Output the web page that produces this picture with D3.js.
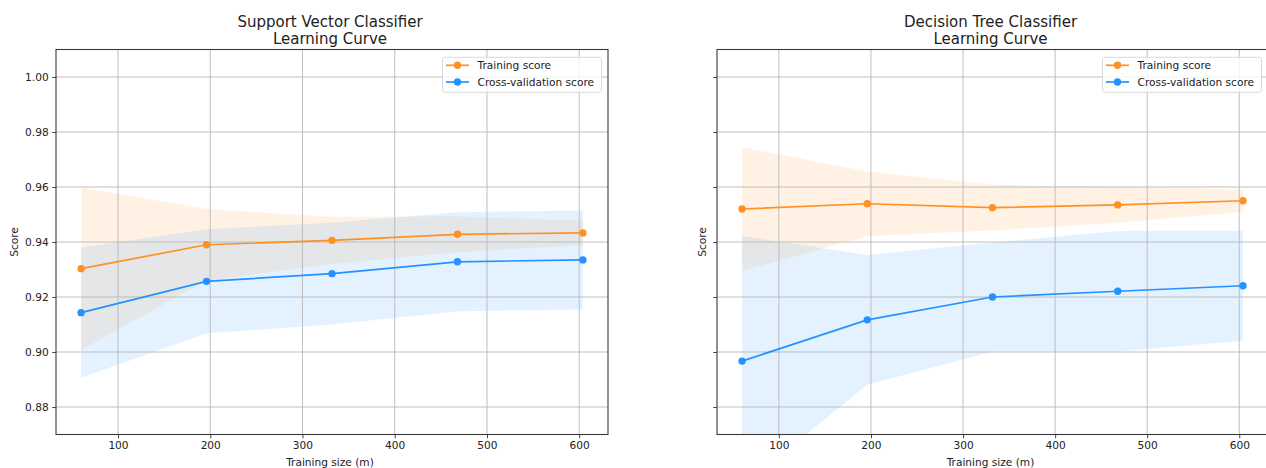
<!DOCTYPE html>
<html>
<head>
<meta charset="utf-8">
<script src="https://cdn.jsdelivr.net/npm/d3@7"></script>
<style>
  html, body { margin: 0; padding: 0; background: #fff; }
  svg { display: block; font-family: "DejaVu Sans", sans-serif; }
</style>
</head>
<body>
<svg id="chart" width="1266" height="468"></svg>
<script>
// Learning curves: mean score per training size, shaded by ±1 std
const trainSizes = [60, 196, 332, 468, 604];

const svcTrainMean = [0.9303, 0.9390, 0.9406, 0.9428, 0.9433];
const svcTrainStd  = [0.0295, 0.0130, 0.0086, 0.0065, 0.0044];
const svcCvMean    = [0.9143, 0.9257, 0.9285, 0.9328, 0.9335];
const svcCvStd     = [0.0237, 0.0189, 0.0185, 0.0180, 0.0180];

const dtTrainMean  = [0.9520, 0.9539, 0.9525, 0.9535, 0.9550];
const dtTrainStd   = [0.0225, 0.0117, 0.0083, 0.0065, 0.0041];
const dtCvMean     = [0.8967, 0.9117, 0.9200, 0.9221, 0.9241];
const dtCvStd      = [0.0455, 0.0236, 0.0198, 0.0219, 0.0200];

const xTicks = [100, 200, 300, 400, 500, 600];
const yTicks = [0.88, 0.90, 0.92, 0.94, 0.96, 0.98, 1.00];
const xDomain = [32.8, 631.2];
const yDomain = [0.87, 1.01];

const panelTitles = [
  ["Support Vector Classifier", "Learning Curve"],
  ["Decision Tree Classifier", "Learning Curve"]
];
const seriesNames = ["Training score", "Cross-validation score"];
const seriesColors = ["#ff9124", "#2492ff"];
const xLabel = "Training size (m)";
const yLabel = "Score";

const panels = [
  { title: panelTitles[0], train: [svcTrainMean, svcTrainStd], cv: [svcCvMean, svcCvStd], left: 56, right: 608, showY: true, yLabelGap: 42 },
  { title: panelTitles[1], train: [dtTrainMean, dtTrainStd], cv: [dtCvMean, dtCvStd], left: 717, right: 1268, showY: false, yLabelGap: 15 }
];

const plotTop = 49.5, plotBottom = 434.5;
const svg = d3.select("#chart");
const fs = 10.6;

panels.forEach((p, pi) => {
  const x = d3.scaleLinear().domain(xDomain).range([p.left, p.right]);
  const y = d3.scaleLinear().domain(yDomain).range([plotBottom, plotTop]);
  const g = svg.append("g");

  const clipId = "clip" + pi;
  g.append("clipPath").attr("id", clipId)
    .append("rect").attr("x", p.left).attr("y", plotTop)
    .attr("width", p.right - p.left).attr("height", plotBottom - plotTop);

  const plot = g.append("g").attr("clip-path", `url(#${clipId})`);

  // std bands
  const series = [p.train, p.cv];
  series.forEach(([mean, std], si) => {
    const area = d3.area()
      .x((d, i) => x(trainSizes[i]))
      .y0((d, i) => y(mean[i] - std[i]))
      .y1((d, i) => y(mean[i] + std[i]));
    plot.append("path").datum(mean)
      .attr("d", area)
      .attr("fill", seriesColors[si])
      .attr("fill-opacity", 0.12);
  });

  // grid
  const grid = plot.append("g").attr("stroke", "#b8b8b8").attr("stroke-width", 0.9);
  xTicks.forEach(t => grid.append("line")
    .attr("x1", x(t)).attr("x2", x(t)).attr("y1", plotTop).attr("y2", plotBottom));
  yTicks.forEach(t => grid.append("line")
    .attr("x1", p.left).attr("x2", p.right).attr("y1", y(t)).attr("y2", y(t)));

  // mean lines with markers
  series.forEach(([mean], si) => {
    const line = d3.line().x((d, i) => x(trainSizes[i])).y(d => y(d));
    plot.append("path").datum(mean)
      .attr("d", line).attr("fill", "none")
      .attr("stroke", seriesColors[si]).attr("stroke-width", 1.7);
    plot.selectAll(null).data(mean).enter().append("circle")
      .attr("cx", (d, i) => x(trainSizes[i])).attr("cy", d => y(d))
      .attr("r", 3.7).attr("fill", seriesColors[si]);
  });

  // axes
  const xAxis = d3.axisBottom(x).tickValues(xTicks).tickFormat(d3.format("d"))
    .tickSize(3.8).tickPadding(3);
  const gx = g.append("g").attr("transform", `translate(0,${plotBottom})`).call(xAxis);
  const yAxis = d3.axisLeft(y).tickValues(yTicks)
    .tickFormat(p.showY ? d3.format(".2f") : "")
    .tickSize(3.8).tickPadding(3.5);
  const gy = g.append("g").attr("transform", `translate(${p.left},0)`).call(yAxis);
  [gx, gy].forEach(a => {
    a.select(".domain").remove();
    a.selectAll(".tick line").attr("stroke", "#333").attr("stroke-width", 0.9);
    a.selectAll(".tick text").attr("fill", "#222").style("font-size", fs + "px")
      .style("font-family", "DejaVu Sans");
  });

  // frame
  g.append("rect").attr("x", p.left).attr("y", plotTop)
    .attr("width", p.right - p.left).attr("height", plotBottom - plotTop)
    .attr("fill", "none").attr("stroke", "#3a3a3a").attr("stroke-width", 1.1);

  // titles
  const cx = (p.left + p.right) / 2;
  p.title.forEach((t, i) => g.append("text")
    .attr("x", cx - 2).attr("y", 27 + i * 17.3)
    .attr("text-anchor", "middle").attr("fill", "#222")
    .style("font-size", "15px").text(t));

  // axis labels
  g.append("text").attr("x", cx - 2).attr("y", 466)
    .attr("text-anchor", "middle").attr("fill", "#222")
    .style("font-size", fs + "px").text(xLabel);
  g.append("text")
    .attr("transform", `translate(${p.left - p.yLabelGap},${(plotTop + plotBottom) / 2}) rotate(-90)`)
    .attr("text-anchor", "middle").attr("dy", "0.35em").attr("fill", "#222")
    .style("font-size", fs + "px").text(yLabel);

  // legend
  const lw = 159, lh = 35;
  const lx = p.right - 6.5 - lw, ly = plotTop + 7.8;
  const leg = g.append("g");
  leg.append("rect").attr("x", lx).attr("y", ly).attr("width", lw).attr("height", lh)
    .attr("rx", 2.5).attr("fill", "#fff").attr("fill-opacity", 0.8)
    .attr("stroke", "#d6d6d6").attr("stroke-width", 0.9);
  seriesNames.forEach((name, i) => {
    const ry = ly + 8 + i * 16.7;
    leg.append("line").attr("x1", lx + 3.5).attr("x2", lx + 26.5)
      .attr("y1", ry).attr("y2", ry)
      .attr("stroke", seriesColors[i]).attr("stroke-width", 1.7);
    leg.append("circle").attr("cx", lx + 15).attr("cy", ry).attr("r", 3.7)
      .attr("fill", seriesColors[i]);
    leg.append("text").attr("x", lx + 35).attr("y", ry).attr("dy", "0.35em")
      .attr("fill", "#222").style("font-size", fs + "px").text(name);
  });
});
</script>
</body>
</html>
